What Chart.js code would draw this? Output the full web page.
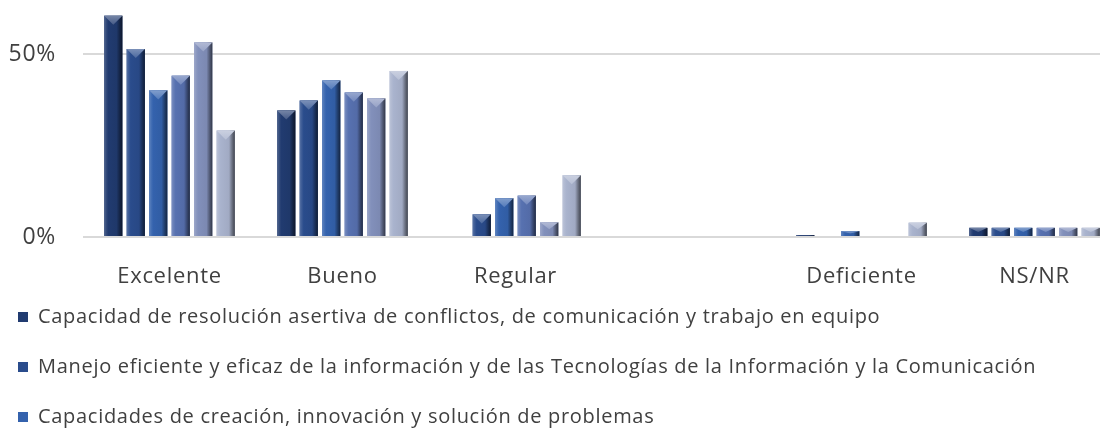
<!DOCTYPE html>
<html>
<head>
<meta charset="utf-8">
<script src="https://cdn.jsdelivr.net/npm/chart.js@4"></script>
<style>
  html, body { margin: 0; padding: 0; background: #ffffff; overflow: hidden; width: 1100px; height: 440px; }
  #c { position: absolute; left: -12px; top: 0; }
</style>
</head>
<body>
<canvas id="c" width="1140" height="440"></canvas>
<script>
// ---- data ----
const categories = ['Excelente', 'Bueno', 'Regular', '', 'Deficiente', 'NS/NR'];
const seriesNames = [
  'Capacidad de resolución asertiva de conflictos, de comunicación y trabajo en equipo',
  'Manejo eficiente y eficaz de la información y de las Tecnologías de la Información y la Comunicación',
  'Capacidades de creación, innovación y solución de problemas',
  'Serie 4',
  'Serie 5',
  'Serie 6'
];
const serie1 = [60.5, 34.6, null, null, 0.5, 2.5];
const serie2 = [51.4, 37.3, 6.2, null, null, 2.5];
const serie3 = [40.1, 42.8, 10.6, null, 1.6, 2.5];
const serie4 = [44.1, 39.5, 11.3, null, null, 2.5];
const serie5 = [53.2, 37.9, 4.0, null, null, 2.5];
const serie6 = [29.1, 45.4, 16.9, null, 3.9, 2.5];
const yTicks = [0, 50];
const visibleLegendItems = 3;

const seriesValues = [serie1, serie2, serie3, serie4, serie5, serie6];
const seriesColors = ['#213b70', '#2a4c8c', '#3462ad', '#5771b0', '#8290bb', '#a9b3cd'];

// ---- colour helpers ----
function hexToRgb(h) {
  const n = parseInt(h.slice(1), 16);
  return [(n >> 16) & 255, (n >> 8) & 255, n & 255];
}
function mix(c, t, a) {
  return 'rgb(' + c.map((v, i) => Math.round(v + (t[i] - v) * a)).join(',') + ')';
}
const WHITE = [255, 255, 255], BLACK = [0, 0, 0];

// slightly spaced text, like the original rendering; x labels not clipped to their box
const textPlugin = {
  id: 'textTweaks',
  afterLayout(chart) {
    const xs = chart.scales.x;
    if (xs && !xs._noClipPatched) {
      xs._computeLabelArea = function () { return undefined; };
      xs._noClipPatched = true;
    }
  },
  beforeDraw(chart) { chart.ctx.letterSpacing = '0.7px'; }
};

// bevel look drawn on top of the library's bar elements
const bevelPlugin = {
  id: 'bevel',
  afterDatasetsDraw(chart) {
    const ctx = chart.ctx;
    const area = chart.chartArea;
    ctx.save();
    ctx.beginPath();
    ctx.rect(area.left, area.top, area.right - area.left, area.bottom - area.top);
    ctx.clip();
    chart.data.datasets.forEach((ds, di) => {
      const meta = chart.getDatasetMeta(di);
      if (meta.hidden) return;
      const c = hexToRgb(ds.backgroundColor);
      meta.data.forEach((el, i) => {
        const v = ds.data[i];
        if (v === null || v === undefined) return;
        const p = el.getProps(['x', 'y', 'base', 'width'], true);
        const L = p.x - p.width / 2, R = p.x + p.width / 2;
        const T = Math.min(p.y, p.base), B = Math.max(p.y, p.base);
        const w = R - L, h = B - T;
        if (h <= 0) return;
        const g = ctx.createLinearGradient(L, 0, R, 0);
        g.addColorStop(0, mix(c, WHITE, 0.22));
        g.addColorStop(0.12, mix(c, WHITE, 0.08));
        g.addColorStop(0.22, mix(c, BLACK, 0.0));
        g.addColorStop(0.68, mix(c, BLACK, 0.05));
        g.addColorStop(0.84, mix(c, BLACK, 0.35));
        g.addColorStop(1, mix(c, BLACK, 0.62));
        ctx.fillStyle = g;
        ctx.fillRect(L, T, w, h);
        const d = Math.min(w / 2, h / 2);
        ctx.beginPath();
        ctx.moveTo(L, T);
        ctx.lineTo(R, T);
        ctx.lineTo(p.x, T + d);
        ctx.closePath();
        const gt = ctx.createLinearGradient(0, T, 0, T + d);
        gt.addColorStop(0, mix(c, WHITE, 0.38));
        gt.addColorStop(1, mix(c, WHITE, 0.16));
        ctx.fillStyle = gt;
        ctx.fill();
      });
    });
    ctx.restore();
  }
};

Chart.defaults.font.family = "'Open Sans', 'Noto Sans', sans-serif";
Chart.defaults.color = '#404040';

new Chart(document.getElementById('c'), {
  type: 'bar',
  data: {
    labels: categories,
    datasets: seriesValues.map((vals, i) => ({
      label: seriesNames[i],
      data: vals,
      backgroundColor: seriesColors[i],
      borderWidth: 0,
      categoryPercentage: 0.78,
      barPercentage: 0.81
    }))
  },
  options: {
    responsive: false,
    animation: false,
    events: [],
    layout: { padding: { left: 0, right: 7, top: 0, bottom: 3 } },
    plugins: {
      tooltip: { enabled: false },
      legend: {
        position: 'bottom',
        align: 'start',
        labels: {
          boxWidth: 10,
          boxHeight: 10,
          padding: 30,
          color: '#404040',
          font: { size: 20 },
          filter: (item) => item.datasetIndex < visibleLegendItems
        }
      }
    },
    scales: {
      x: {
        grid: { display: false, drawTicks: false },
        border: { display: false },
        ticks: { autoSkip: false, maxRotation: 0, padding: 27, color: '#404040', font: { size: 22 } },
        afterFit: (axis) => { axis.height = 40; axis.paddingLeft = 0; axis.paddingRight = 0; }
      },
      y: {
        min: 0,
        max: 64.8,
        grid: { color: '#d9d9d9', lineWidth: 2, drawTicks: false },
        border: { display: false },
        afterBuildTicks: (axis) => { axis.ticks = yTicks.map(v => ({ value: v })); },
        ticks: {
          padding: 27,
          color: '#404040',
          font: { size: 23 },
          callback: (v) => v + '%'
        },
        afterFit: (axis) => { axis.width = 95; axis.paddingTop = 0; axis.paddingBottom = 0; }
      }
    }
  },
  plugins: [textPlugin, bevelPlugin]
});
</script>
</body>
</html>
